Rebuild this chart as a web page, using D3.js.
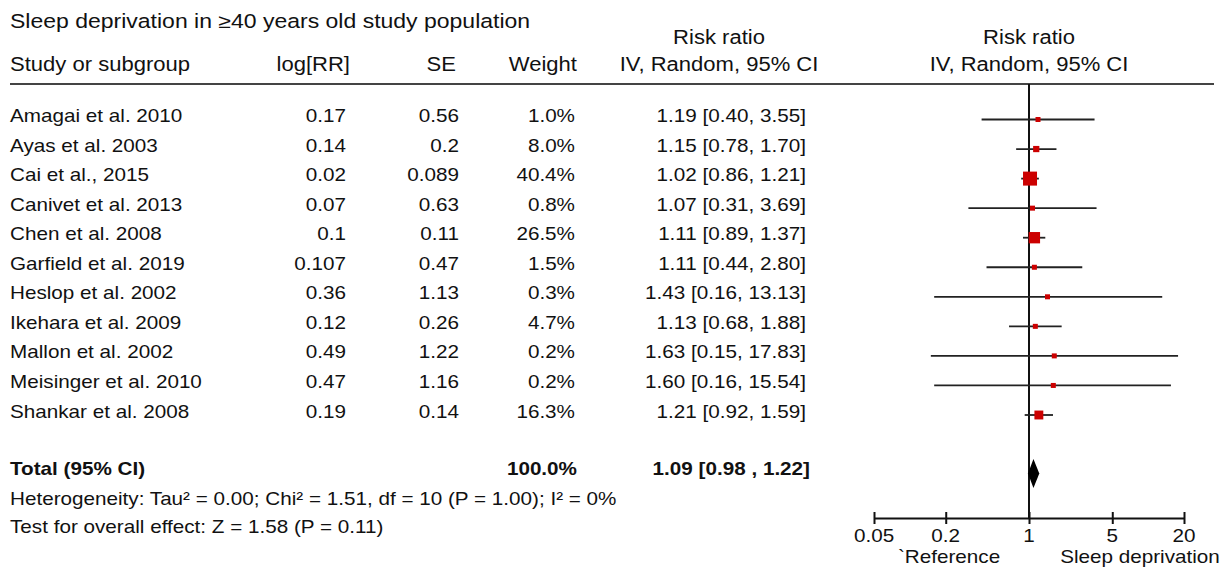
<!DOCTYPE html>
<html>
<head>
<meta charset="utf-8">
<script src="https://cdn.jsdelivr.net/npm/d3@7"></script>
<style>
  body { margin: 0; background: #fff; }
  text { font-family: "Liberation Sans", Arial, sans-serif; font-size: 18.3px; fill: #111; }
</style>
</head>
<body>
<script>
// data
var studies = ['Amagai et al. 2010', 'Ayas et al. 2003', 'Cai et al., 2015', 'Canivet et al. 2013',
  'Chen et al. 2008', 'Garfield et al. 2019', 'Heslop et al. 2002', 'Ikehara et al. 2009',
  'Mallon et al. 2002', 'Meisinger et al. 2010', 'Shankar et al. 2008'];
var logRR = ['0.17', '0.14', '0.02', '0.07', '0.1', '0.107', '0.36', '0.12', '0.49', '0.47', '0.19'];
var se = ['0.56', '0.2', '0.089', '0.63', '0.11', '0.47', '1.13', '0.26', '1.22', '1.16', '0.14'];
var weight = [1.0, 8.0, 40.4, 0.8, 26.5, 1.5, 0.3, 4.7, 0.2, 0.2, 16.3];
var rr = [1.19, 1.15, 1.02, 1.07, 1.11, 1.11, 1.43, 1.13, 1.63, 1.60, 1.21];
var lo = [0.40, 0.78, 0.86, 0.31, 0.89, 0.44, 0.16, 0.68, 0.15, 0.16, 0.92];
var hi = [3.55, 1.70, 1.21, 3.69, 1.37, 2.80, 13.13, 1.88, 17.83, 15.54, 1.59];
var total = { rr: 1.09, lo: 0.98, hi: 1.22 };
var axisTicks = [0.05, 0.2, 1, 5, 20];

var W = 1222, H = 569;
var svg = d3.select('body').append('svg')
    .attr('width', W)
    .attr('height', H);

// text is a bit wider than Arial in the original
function txt(x, y, s, anchor, bold, fs, sx) {
  return svg.append('text')
    .attr('transform', 'translate(' + x + ',' + y + ') scale(' + (sx || 1.13) + ',1)')
    .attr('text-anchor', anchor || 'start')
    .style('font-weight', bold ? 'bold' : null)
    .style('font-size', fs ? fs + 'px' : null)
    .text(s);
}

var fmt = d3.format('.2f');
var x = d3.scaleLog().domain([0.05, 20]).range([874, 1184]);
var y = d3.scaleLinear().domain([0, studies.length - 1]).range([119.5, 415]);
var size = d3.scaleSqrt().domain([0, 40.4]).range([0, 14]);

// headers
txt(10, 28, 'Sleep deprivation in \u226540 years old study population', 'start', false, 19.5, 1.18);
txt(10, 71, 'Study or subgroup', 'start', false, 19.5);
txt(350, 71, 'log[RR]', 'end', false, 19.5);
txt(456, 71, 'SE', 'end', false, 19.5);
txt(577, 71, 'Weight', 'end', false, 19.5);
txt(719, 44, 'Risk ratio', 'middle', false, 19.5);
txt(719, 71, 'IV, Random, 95% CI', 'middle', false, 19.5);
txt(1029, 44, 'Risk ratio', 'middle', false, 19.5);
txt(1029, 71, 'IV, Random, 95% CI', 'middle', false, 19.5);

svg.append('line')
  .attr('x1', 10).attr('x2', 1214)
  .attr('y1', 84).attr('y2', 84)
  .attr('stroke', '#444').attr('stroke-width', 2);

// table rows
studies.forEach(function(s, i) {
  var yy = y(i) + 2.5;
  txt(10, yy, s);
  txt(346, yy, logRR[i], 'end');
  txt(459, yy, se[i], 'end');
  txt(575, yy, weight[i].toFixed(1) + '%', 'end');
  txt(806, yy, fmt(rr[i]) + ' [' + fmt(lo[i]) + ', ' + fmt(hi[i]) + ']', 'end');
});

txt(10, 475, 'Total (95% CI)', 'start', true);
txt(577, 475, '100.0%', 'end', true);
txt(810, 475, fmt(total.rr) + ' [' + fmt(total.lo) + ' , ' + fmt(total.hi) + ']', 'end', true);
txt(10, 505, 'Heterogeneity: Tau\u00b2 = 0.00; Chi\u00b2 = 1.51, df = 10 (P = 1.00); I\u00b2 = 0%');
txt(10, 533, 'Test for overall effect: Z = 1.58 (P = 0.11)');

// reference line
svg.append('line')
  .attr('x1', x(1)).attr('x2', x(1))
  .attr('y1', 84).attr('y2', 518)
  .attr('stroke', '#111').attr('stroke-width', 2);

// whiskers and squares
var plot = svg.append('g');
plot.selectAll('.ci')
  .data(studies)
  .enter().append('line')
    .attr('class', 'ci')
    .attr('x1', function(d, i) { return x(lo[i]); })
    .attr('x2', function(d, i) { return x(hi[i]); })
    .attr('y1', function(d, i) { return y(i); })
    .attr('y2', function(d, i) { return y(i); })
    .attr('stroke', '#222').attr('stroke-width', 1.8);

plot.selectAll('.box')
  .data(studies)
  .enter().append('rect')
    .attr('class', 'box')
    .attr('x', function(d, i) { return x(rr[i]) - Math.max(5, size(weight[i])) / 2; })
    .attr('y', function(d, i) { return y(i) - Math.max(5, size(weight[i])) / 2; })
    .attr('width', function(d, i) { return Math.max(5, size(weight[i])); })
    .attr('height', function(d, i) { return Math.max(5, size(weight[i])); })
    .attr('fill', '#cc0000');

// pooled diamond
var dy = 473.5;
plot.append('path')
  .attr('d', 'M' + x(total.lo) + ',' + dy + 'L' + x(total.rr) + ',' + (dy - 14.5) +
    'L' + x(total.hi) + ',' + dy + 'L' + x(total.rr) + ',' + (dy + 14.5) + 'Z')
  .attr('fill', '#000');

// axis
var xAxis = d3.axisBottom(x)
  .tickValues(axisTicks)
  .tickFormat(function(d) { return String(d); })
  .tickSize(6)
  .tickSizeOuter(0);

var ax = svg.append('g')
  .attr('transform', 'translate(0,518)')
  .call(xAxis);
ax.select('.domain').attr('stroke', '#111').attr('stroke-width', 2);
ax.selectAll('.tick line').attr('y1', -6).attr('stroke', '#111').attr('stroke-width', 2);
ax.selectAll('.tick text').remove();

axisTicks.forEach(function(t) {
  txt(x(t), 542, String(t), 'middle');
});

txt(949, 563, '`Reference', 'middle');
txt(1140, 563, 'Sleep deprivation', 'middle');
</script>
</body>
</html>
